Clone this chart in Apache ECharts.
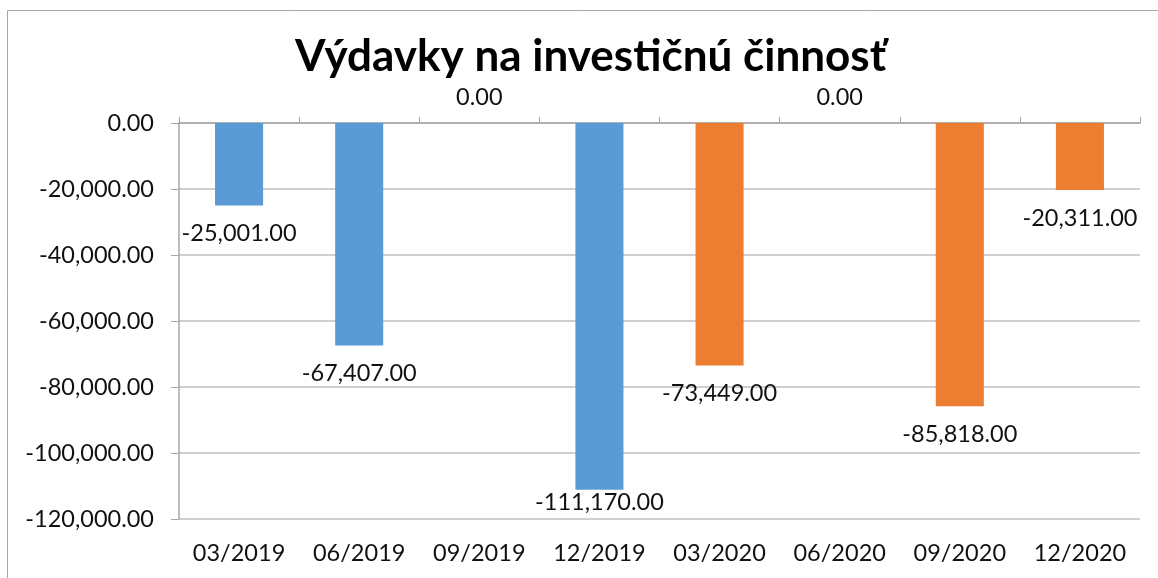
<!DOCTYPE html>
<html>
<head>
<meta charset="utf-8">
<script src="https://cdn.jsdelivr.net/npm/echarts@6/dist/echarts.min.js"></script>
<style>
  html, body { margin: 0; padding: 0; background: #fff; }
  #chart { width: 1158px; height: 578px; }
</style>
</head>
<body>
<div id="chart"></div>
<script>
const categories = ['03/2019', '06/2019', '09/2019', '12/2019', '03/2020', '06/2020', '09/2020', '12/2020']
// 2019 quarters (blue) and 2020 quarters (orange)
const values2019 = [-25001, -67407, 0, -111170, '-', '-', '-', '-']
const values2020 = ['-', '-', '-', '-', -73449, 0, -85818, -20311]
const yTicks = { min: -120000, max: 0, interval: 20000 }

const font = 'Lato, "Noto Sans", sans-serif'
const fmt = v => Number(v).toLocaleString('en-US', { minimumFractionDigits: 2, maximumFractionDigits: 2 })

const chart = echarts.init(document.getElementById('chart'))

// zero bars get their label above the axis line, like the original
const withLabels = arr => arr.map(v => v === 0 ? { value: v, label: { position: 'top', distance: 14 } } : v)

const barSeries = (name, data, color) => ({
  name: name,
  type: 'bar',
  stack: 'all',
  barWidth: '40%',
  data: withLabels(data),
  itemStyle: { color: color },
  label: {
    show: true,
    position: 'bottom',
    distance: 16,
    color: '#111',
    fontSize: 23.5,
    fontFamily: font,
    formatter: p => fmt(p.value)
  },
  labelLayout: function (params) {
    // keep labels inside the plot area
    const bottom = chart.convertToPixel({ yAxisIndex: 0 }, yTicks.min)
    const r = params.labelRect
    if (r.y + r.height > bottom - 5) return { dy: bottom - 5 - r.y - r.height }
  }
})

const option = {
  backgroundColor: '#fff',
  animation: false,
  title: {
    text: 'Výdavky na investičnú činnosť',
    left: 290,
    top: 30,
    textStyle: {
      fontFamily: font,
      fontSize: 44,
      fontWeight: 'bold',
      color: '#000'
    }
  },
  graphic: [{
    type: 'rect',
    shape: { x: 7.5, y: 10.5, width: 1200, height: 600 },
    style: { fill: 'none', stroke: '#a6a6a6', lineWidth: 1 },
    silent: true
  }],
  grid: {
    left: 179,
    right: 18,
    top: 123,
    bottom: 59
  },
  xAxis: [
    {
      type: 'category',
      data: categories,
      position: 'bottom',
      axisLine: { show: false },
      axisTick: { show: false },
      axisLabel: {
        color: '#111',
        fontSize: 23.5,
        fontFamily: font,
        margin: 22
      }
    },
    {
      type: 'category',
      data: categories,
      position: 'top',
      axisLine: { show: true, lineStyle: { color: '#a6a6a6', width: 1.5 } },
      axisTick: { show: true, length: 6, lineStyle: { color: '#a6a6a6' } },
      axisLabel: { show: false }
    }
  ],
  yAxis: {
    type: 'value',
    min: yTicks.min,
    max: yTicks.max,
    interval: yTicks.interval,
    axisLine: { show: true, lineStyle: { color: '#a6a6a6', width: 1.5 } },
    axisTick: { show: true, length: 8, lineStyle: { color: '#a6a6a6' } },
    axisLabel: {
      color: '#111',
      fontSize: 23.5,
      fontFamily: font,
      margin: 25,
      formatter: v => fmt(v)
    },
    splitLine: { lineStyle: { color: '#bfbfbf', width: 1.5 } }
  },
  series: [
    barSeries('2019', values2019, '#5b9bd5'),
    barSeries('2020', values2020, '#ed7d31')
  ]
}

chart.setOption(option)
</script>
</body>
</html>
